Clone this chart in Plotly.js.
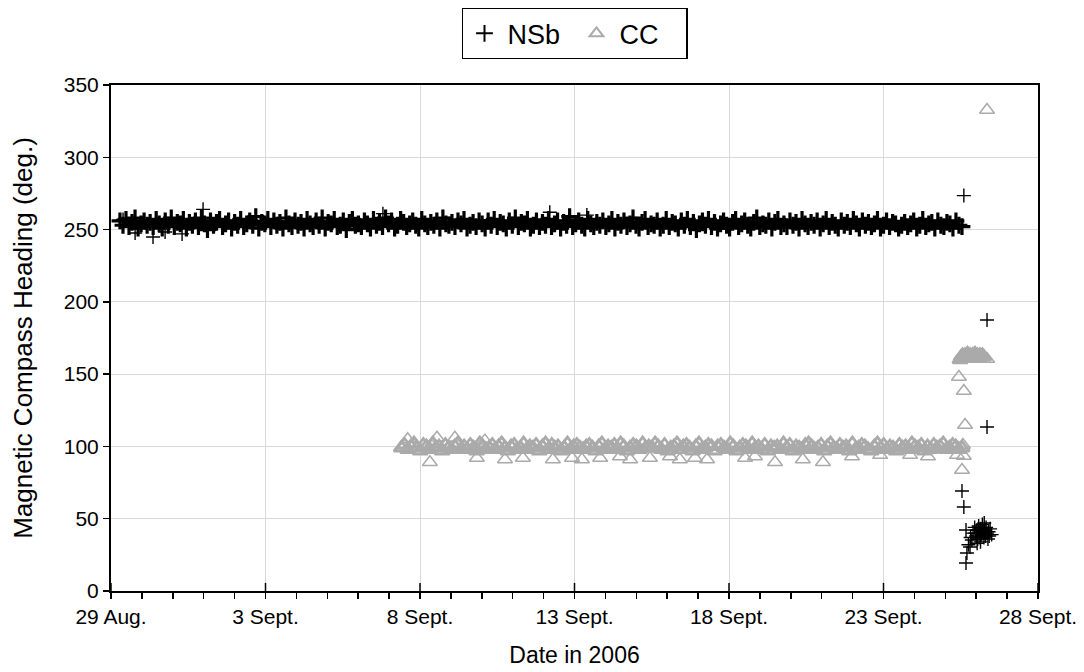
<!DOCTYPE html>
<html>
<head>
<meta charset="utf-8">
<script src="https://cdn.plot.ly/plotly-3.0.1.min.js"></script>
<style>html,body{margin:0;padding:0;background:#fff}#chart{width:1084px;height:672px}</style>
</head>
<body>
<div id="chart"></div>
<script>
// x values are days since 29 Aug 2006 00:00
var xTickVals = [0, 5, 10, 15, 20, 25, 30];
var xTickText = ["29 Aug.", "3 Sept.", "8 Sept.", "13 Sept.", "18 Sept.", "23 Sept.", "28 Sept."];

// NSb: dense, regularly sampled band
var nsbBandStart = 0.29;
var nsbBandEnd = 27.54;
var nsbBandValues = [
256,253,257,252,255,258,251,254,256,253,255,252,257,254,251,256,253,258,252,255,
254,257,251,255,253,256,252,258,254,250,256,253,255,257,252,254,256,251,255,253,
257,252,254,256,253,259,251,255,254,257,252,256,253,255,251,258,254,252,256,253,
255,251,257,254,252,256,253,258,251,255,254,257,252,253,256,250,255,257,253,254,
252,256,254,251,257,253,255,252,258,254,256,251,253,257,255,252,254,256,253,251,
257,254,252,255,253,256,251,258,254,253,255,252,256,254,257,251,253,255,252,256,
254,251,256,253,257,252,255,254,251,256,253,258,252,255,254,257,251,253,256,252,
255,253,257,252,254,256,251,255,253,259,252,254,256,253,251,257,254,252,255,253,
256,252,254,257,251,255,253,256,252,254,258,253,251,255,257,252,254,253,256,251,
253,257,252,255,254,251,256,253,257,252,255,250,254,256,253,257,252,255,251,254,
256,253,251,255,257,252,254,256,253,251,255,258,252,254,253,256,251,255,257,252,
254,252,256,253,255,251,257,254,252,255,253,256,251,254,257,252,255,253,251,256,
253,255,252,257,254,251,256,253,255,252,254,257,251,253,256,252,255,254,251,253,
255,252,254,256,251,253,257,252,254,255,251,256,253,252,255,254,251,256,253,252
];
// NSb: isolated points
var nsbExtraDays = [0.39, 0.78, 1.36, 1.75, 2.30, 2.98, 8.80, 14.20, 15.40,
  27.60, 28.35, 28.35, 27.54, 27.60, 27.67, 27.70, 27.80, 27.86, 27.67,
  27.75, 27.82, 27.90, 27.95, 28.00, 28.02, 28.03, 28.05, 28.08, 28.10, 28.12, 28.14,
  28.15, 28.18, 28.20, 28.22, 28.25, 28.26, 28.28, 28.30, 28.32, 28.35, 28.38, 28.40,
  28.42, 28.45, 28.50, 27.97, 28.07];
var nsbExtraValues = [257, 247.6, 244.9, 248.3, 247, 264, 261, 262, 260,
  273.5, 187.5, 113.4, 69.2, 58.1, 19.4, 26.3, 30.4, 35.3, 42.2,
  32, 37, 40, 44, 38, 42, 33, 36, 45, 40, 37, 34,
  43, 39, 46, 41, 37, 47, 42, 38, 44, 40, 36, 41,
  38, 43, 39, 40, 42];

// CC: dense, regularly sampled band
var ccBandStart = 9.40;
var ccBandEnd = 27.54;
var ccBandValues = [
99,101,98,100,102,99,97,101,100,98,102,99,100,97,101,99,98,100,102,98,
100,98,101,99,97,102,100,98,99,101,98,100,102,99,97,100,101,98,99,102,
98,100,99,101,97,100,102,98,101,99,100,97,99,102,98,100,101,99,98,100,
101,99,97,100,102,98,100,99,101,98,102,100,97,99,101,100,98,102,99,100,
99,102,100,98,101,97,99,100,102,98,100,101,99,97,100,102,98,99,101,100,
97,100,101,99,98,102,100,97,99,101,100,98,102,99,100,98,101,97,100,99,
100,98,102,99,101,97,100,99,98,101,102,100,98,99,101,97,100,102,99,98,
101,99,100,97,102,98,99,101,100,98,97,100,102,99,101,98,100,99,97,101,
99,100,98,102,100,99,101,97,100,98,101,99,100,102,98,99,101,100,98,99
];
// CC: cluster near 161 deg at the end
var ccClusterDays = [27.48, 27.52, 27.56, 27.60, 27.64, 27.68, 27.72, 27.76, 27.80, 27.84, 27.88, 27.92,
  27.96, 28.00, 28.04, 28.08, 28.12, 28.16, 28.20, 28.24];
var ccClusterValues = [160, 162, 163, 161, 163, 162, 164, 162, 163, 161, 163, 162,
  164, 162, 163, 161, 163, 162, 163, 162];
// CC: isolated points
var ccExtraDays = [9.60, 10.55, 11.13, 12.10,
  10.32, 11.84, 12.75, 13.33, 14.30, 14.92, 15.24, 15.83, 16.47, 16.80, 17.44, 18.09, 18.41,
  18.90, 19.29, 20.52, 20.84, 21.49, 22.39, 23.04, 23.98, 24.89, 25.86, 26.44, 27.38,
  27.44, 27.60, 27.64, 27.57, 27.60, 27.54, 28.35, 28.35];
var ccExtraValues = [105, 106, 106, 104,
  89, 92, 91, 92, 91, 92, 91, 92, 93, 91, 92, 93, 91,
  92, 91, 92, 93, 89, 91, 89, 93, 94, 94, 93, 94,
  148, 138.3, 114.8, 101, 93.4, 83.7, 160.5, 332.7];

function bandDays(start, end, n) {
  var out = [];
  for (var i = 0; i < n; i++) out.push(start + (end - start) * i / (n - 1));
  return out;
}

var FONT = "Liberation Sans, Arial, sans-serif";
var GRAY = "#aaaaaa";

var traces = [
  { // NSb dense band (heavier strokes reproduce the solid band of thousands of points)
    type: "scatter", mode: "markers", name: "NSb", legendgroup: "nsb", showlegend: false,
    x: bandDays(nsbBandStart, nsbBandEnd, nsbBandValues.length), y: nsbBandValues,
    marker: {symbol: "cross-thin-open", size: 12, color: "#000000",
             line: {color: "#000000", width: 3.2}}
  },
  { // CC dense band + cluster
    type: "scatter", mode: "markers", name: "CC", legendgroup: "cc", showlegend: false,
    x: bandDays(ccBandStart, ccBandEnd, ccBandValues.length).concat(ccClusterDays),
    y: ccBandValues.concat(ccClusterValues),
    marker: {symbol: "triangle-up-open", size: 13, color: GRAY,
             line: {color: GRAY, width: 2.8}}
  },
  {
    type: "scatter", mode: "markers", name: "NSb", legendgroup: "nsb",
    x: nsbExtraDays, y: nsbExtraValues,
    marker: {symbol: "cross-thin-open", size: 10, color: "#000000",
             line: {color: "#000000", width: 1.4}}
  },
  {
    type: "scatter", mode: "markers", name: "CC", legendgroup: "cc",
    x: ccExtraDays, y: ccExtraValues,
    marker: {symbol: "triangle-up-open", size: 13, color: GRAY,
             line: {color: GRAY, width: 1.5}}
  }
];

var shapes = xTickVals.map(function (v) {
  return {type: "line", xref: "x", yref: "paper", x0: v, x1: v, y0: 0, y1: 0.016,
          line: {color: "#000000", width: 1.5}};
});

var layout = {
  width: 1084, height: 672,
  margin: {l: 111, r: 46, t: 85, b: 81, autoexpand: false},
  paper_bgcolor: "#ffffff", plot_bgcolor: "#ffffff",
  font: {family: FONT, size: 20, color: "#000000"},
  showlegend: true,
  legend: {
    orientation: "h", x: 0.5, xanchor: "center", y: 1.152, yanchor: "top",
    bordercolor: "#000000", borderwidth: 1.2, bgcolor: "#ffffff",
    font: {family: FONT, size: 27, color: "#000000"},
    itemsizing: "constant", itemwidth: 36, entrywidth: 61
  },
  xaxis: {
    range: [0, 30],
    tickmode: "array", tickvals: xTickVals, ticktext: xTickText,
    ticks: "outside", ticklen: 6, tickwidth: 1.5, tickcolor: "#000000",
    minor: {dtick: 1, ticks: "outside", ticklen: 6, tickwidth: 1.5, tickcolor: "#000000", showgrid: false},
    showgrid: true, gridcolor: "#d9d9d9", gridwidth: 1,
    showline: true, linecolor: "#000000", linewidth: 2, mirror: true,
    zeroline: false,
    tickfont: {family: FONT, size: 21, color: "#000000"},
    title: {text: "Date in 2006", font: {family: FONT, size: 23, color: "#000000"}, standoff: 20}
  },
  yaxis: {
    range: [0, 350], dtick: 50, tick0: 0,
    ticks: "outside", ticklen: 6, tickwidth: 1.5, tickcolor: "#000000",
    showgrid: true, gridcolor: "#d9d9d9", gridwidth: 1,
    showline: true, linecolor: "#000000", linewidth: 2, mirror: true,
    zeroline: false,
    tickfont: {family: FONT, size: 21, color: "#000000"},
    title: {text: "Magnetic Compass Heading (deg.)", font: {family: FONT, size: 26, color: "#000000"}, standoff: 24}
  },
  shapes: shapes
};

Plotly.newPlot("chart", traces, layout, {displayModeBar: false, staticPlot: true});
</script>
</body>
</html>
